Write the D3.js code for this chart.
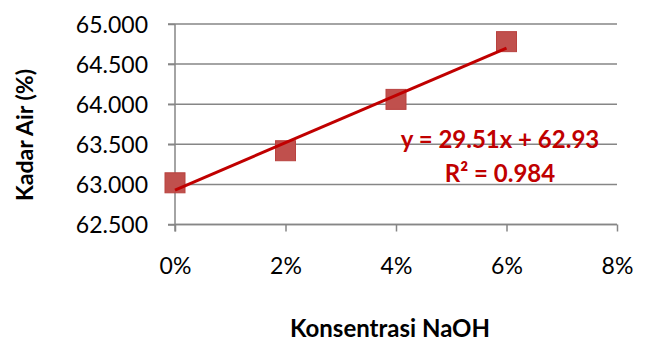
<!DOCTYPE html>
<html><head><meta charset="utf-8">
<script src="https://cdn.jsdelivr.net/npm/d3@7"></script>
<style>body{margin:0;background:#fff}svg{display:block}</style>
</head><body>
<script>
const xValues = [0, 0.02, 0.04, 0.06];
const yValues = [63.02, 63.42, 64.06, 64.78];
const xTicks = [0, 0.02, 0.04, 0.06, 0.08];
const yTicks = [62.5, 63.0, 63.5, 64.0, 64.5, 65.0];
const slope = 29.51, intercept = 62.93;
const eqLabel = "y = 29.51x + 62.93";
const r2Label = "R² = 0.984";

const W = 649, H = 343;
const font = "Lato, sans-serif";
const svg = d3.select("body").append("svg").attr("width", W).attr("height", H);
const x = d3.scaleLinear().domain([0, 0.08]).range([175, 617]);
const y = d3.scaleLinear().domain([62.5, 65]).range([224.5, 24]);
const grid = "#868686";

// gridlines
svg.append("g").selectAll("line").data(yTicks).join("line")
  .attr("x1", 168).attr("x2", x(0.08))
  .attr("y1", d => y(d)).attr("y2", d => y(d))
  .attr("stroke", grid).attr("stroke-width", 1.5);

// y axis
const yAxis = svg.append("g").attr("transform", `translate(${x(0)},0)`)
  .call(d3.axisLeft(y).tickValues(yTicks).tickFormat(d3.format(".3f")).tickSize(7).tickPadding(20));
yAxis.select(".domain").attr("stroke", grid).attr("stroke-width", 1.5).attr("d", `M0,${y(62.5)+7}V${y(65)}`);
yAxis.selectAll(".tick line").attr("stroke", grid).attr("stroke-width", 1.5);
yAxis.selectAll("text").attr("font-family", font).attr("font-size", 23).attr("fill", "#000").attr("dy", "0.36em");

// x axis
const xAxis = svg.append("g").attr("transform", `translate(0,${y(62.5)})`)
  .call(d3.axisBottom(x).tickValues(xTicks).tickFormat(d3.format(".0%")).tickSize(7).tickPadding(26));
xAxis.select(".domain").attr("stroke", grid).attr("stroke-width", 1.5).attr("d", `M${x(0)},0H${x(0.08)}`);
xAxis.selectAll(".tick line").attr("stroke", grid).attr("stroke-width", 1.5);
xAxis.selectAll("text").attr("font-family", font).attr("font-size", 23).attr("fill", "#000");

// markers
const ms = 20;
svg.append("g").selectAll("rect").data(xValues).join("rect")
  .attr("x", (d) => x(d) - ms/2).attr("y", (d, i) => y(yValues[i]) - ms/2)
  .attr("width", ms).attr("height", ms)
  .attr("fill", "#C0504D").attr("stroke", "#B9423F").attr("stroke-width", 1);

// trendline
svg.append("line")
  .attr("x1", x(0)).attr("y1", y(intercept))
  .attr("x2", x(0.06)).attr("y2", y(intercept + slope*0.06))
  .attr("stroke", "#C00000").attr("stroke-width", 3);

// equation
svg.append("text").attr("x", 500).attr("y", 148).attr("text-anchor", "middle")
  .attr("font-family", font).attr("font-size", 24).attr("font-weight", "bold").attr("fill", "#C00000").text(eqLabel);
svg.append("text").attr("x", 500).attr("y", 182).attr("text-anchor", "middle")
  .attr("font-family", font).attr("font-size", 24).attr("font-weight", "bold").attr("fill", "#C00000").text(r2Label);

// axis titles
svg.append("text").attr("x", 390).attr("y", 337).attr("text-anchor", "middle")
  .attr("font-family", font).attr("font-size", 24).attr("font-weight", "bold").text("Konsentrasi NaOH");
svg.append("text").attr("transform", "translate(33,135) rotate(-90)").attr("text-anchor", "middle")
  .attr("font-family", font).attr("font-size", 23).attr("font-weight", "bold").text("Kadar Air (%)");
</script>
</body></html>
